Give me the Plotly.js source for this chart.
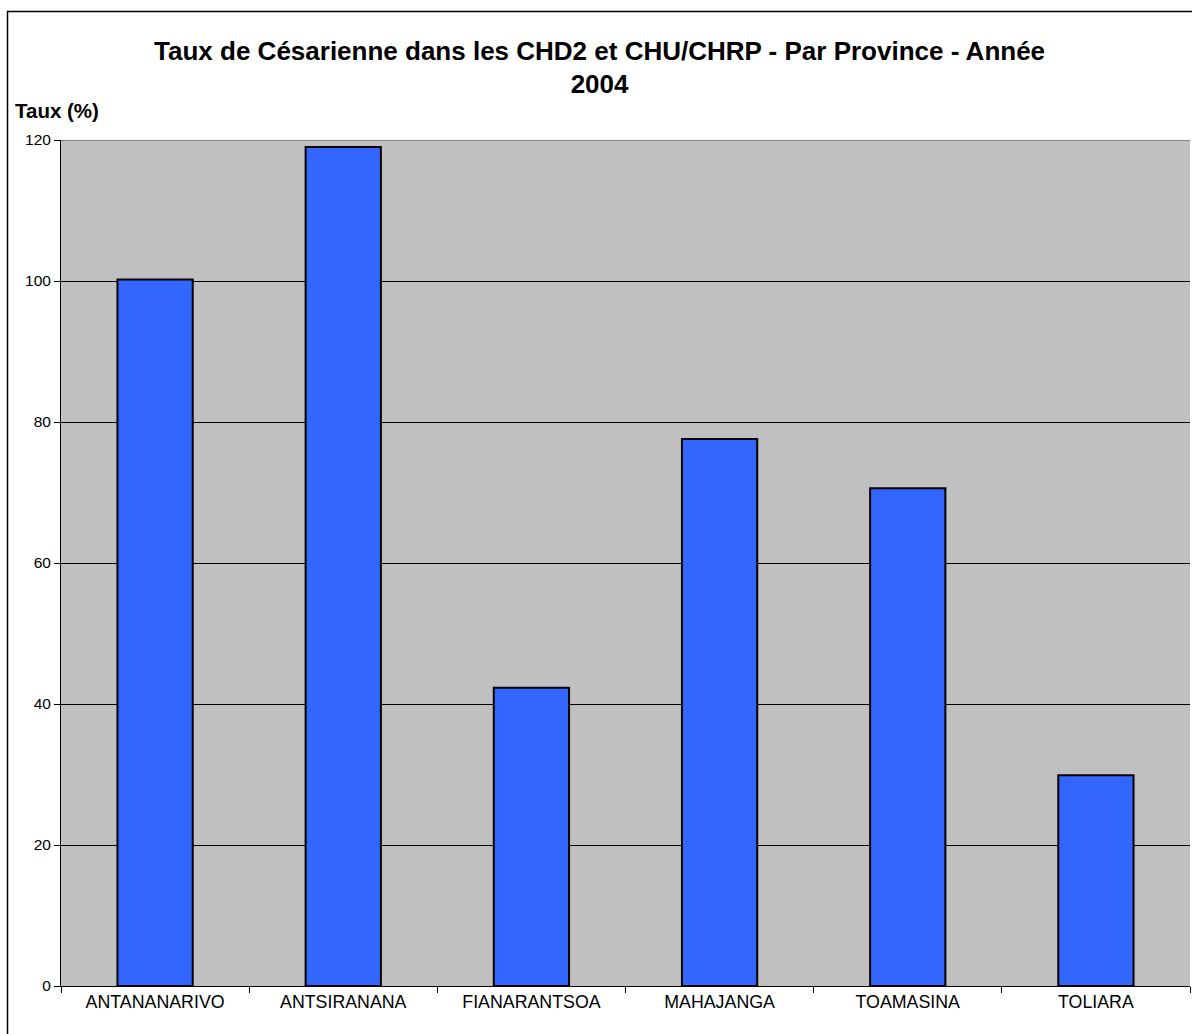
<!DOCTYPE html>
<html>
<head>
<meta charset="utf-8">
<script src="https://cdn.plot.ly/plotly-3.0.1.min.js"></script>
<style>html,body{margin:0;padding:0;background:#fff;}#chart{width:1192px;height:1034px;}</style>
</head>
<body>
<div id="chart"></div>
<script>
const provinces = ["ANTANANARIVO", "ANTSIRANANA", "FIANARANTSOA", "MAHAJANGA", "TOAMASINA", "TOLIARA"];
const tauxCesarienne = [100.2, 119.0, 42.3, 77.6, 70.6, 29.9];
const yTickValues = [0, 20, 40, 60, 80, 100, 120];

const font = "Liberation Sans, Arial, sans-serif";

const trace = {
  type: "bar",
  x: provinces,
  y: tauxCesarienne,
  marker: {color: "#3366FF", line: {color: "#000000", width: 2}},
  hoverinfo: "x+y"
};

function py(p) { return (986 - p) / 846; }
function px(p) { return (p - 61) / 1129; }

const layout = {
  width: 1192,
  height: 1034,
  margin: {l: 61, r: 2, t: 140, b: 48},
  paper_bgcolor: "#ffffff",
  plot_bgcolor: "#C0C0C0",
  bargap: 0.6,
  showlegend: false,
  font: {family: font, color: "#000", size: 15},
  title: {
    text: "<b>Taux de Césarienne dans les CHD2 et CHU/CHRP - Par Province - Année<br>2004</b>",
    font: {family: font, size: 26, color: "#000"},
    x: 0.503, xanchor: "center", xref: "container",
    y: 1 - 59.5/1034, yanchor: "middle", yref: "container"
  },
  xaxis: {
    type: "category",
    showline: true, linecolor: "#000", linewidth: 1,
    ticks: "outside", tickson: "boundaries", ticklen: 6, tickcolor: "#000",
    showgrid: false, zeroline: false,
    tickfont: {family: font, size: 17.8, color: "#000"}
  },
  yaxis: {
    range: [0, 120],
    tickvals: yTickValues,
    showline: true, linecolor: "#000", linewidth: 1,
    ticks: "outside", ticklen: 6, tickcolor: "#000",
    showgrid: true, gridcolor: "#000", gridwidth: 1,
    zeroline: false,
    tickfont: {family: font, size: 15.5, color: "#000"}
  },
  annotations: [{
    text: "<b>Taux (%)</b>",
    xref: "paper", yref: "paper",
    x: px(13), y: py(110),
    xanchor: "left", yanchor: "middle",
    showarrow: false,
    font: {family: font, size: 20.5, color: "#000"}
  }],
  shapes: [
    {type: "line", xref: "paper", yref: "y", x0: 0, x1: 1, y0: 120, y1: 120,
     line: {color: "#808080", width: 2}, layer: "above"},
    {type: "rect", xref: "paper", yref: "paper",
     x0: px(7.5), x1: 1.2, y0: -0.2, y1: py(11.5),
     line: {color: "#000", width: 1.5}, fillcolor: "rgba(0,0,0,0)", layer: "below"}
  ]
};

Plotly.newPlot("chart", [trace], layout, {displayModeBar: false, staticPlot: true});
</script>
</body>
</html>
